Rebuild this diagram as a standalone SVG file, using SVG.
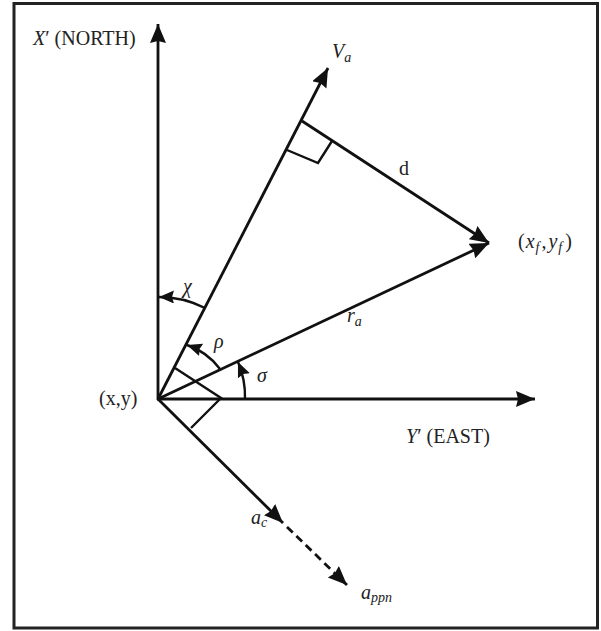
<svg xmlns="http://www.w3.org/2000/svg" width="601" height="631" viewBox="0 0 601 631">
<style>
.ln{stroke:#111;stroke-width:2.8;fill:none;stroke-linecap:butt}
.thin{stroke:#111;stroke-width:2.4;fill:none}
text{font-family:"Liberation Serif","DejaVu Serif","Times New Roman",serif;font-size:20px;fill:#222}
.i{font-style:italic}
.s{font-size:14px;font-style:italic}
</style>
<defs>
<marker id="ah" markerUnits="userSpaceOnUse" markerWidth="21" markerHeight="17" refX="19" refY="8" orient="auto">
<path d="M0,0 L19,8 L0,16 L2,8 z" fill="#111"/>
</marker>
<marker id="ahs" markerUnits="userSpaceOnUse" markerWidth="16" markerHeight="14" refX="15" refY="6.5" orient="auto">
<path d="M0,0 L15,6.5 L0,13 L2,6.5 z" fill="#111"/>
</marker>
</defs>
<rect x="14" y="3.5" width="583.5" height="624.5" fill="#fff" stroke="#222" stroke-width="3"/>
<g id="connectors">
<path class="ln" d="M158,400 L158,24" marker-end="url(#ah)"/>
<path class="ln" d="M157,399 L535,399" marker-end="url(#ah)"/>
<path class="ln" d="M158,399 L328,68" marker-end="url(#ah)"/>
<path class="ln" d="M158,399 L489,243" marker-end="url(#ah)"/>
<path class="ln" d="M302,121 L489,243" marker-end="url(#ah)"/>
<path class="ln" d="M158,399 L283,523" marker-end="url(#ah)"/>
<path class="ln" d="M287,527 L347,585" stroke-dasharray="8,5" marker-end="url(#ah)"/>
<path class="thin" d="M287,150 L318,163 L332,141"/>
<path class="thin" d="M175,368 L221,398 L191,428"/>
<path class="thin" d="M205,308 A102,102 0 0 0 159,297" marker-end="url(#ahs)"/>
<path class="thin" d="M220,369 A68,68 0 0 0 187,345" marker-end="url(#ahs)"/>
<path class="thin" d="M245,399 A87,87 0 0 0 238,362" marker-end="url(#ahs)"/>
</g>
<g id="north-label"><text x="33" y="45"><tspan class="i">X</tspan><tspan>′</tspan> (NORTH)</text></g>
<g id="east-label"><text x="406" y="443"><tspan class="i">Y</tspan><tspan>′</tspan> (EAST)</text></g>
<g id="va-label"><text x="332" y="58"><tspan class="i">V</tspan><tspan class="s" dy="4">a</tspan></text></g>
<g id="d-label"><text x="399" y="175">d</text></g>
<g id="target-label"><text x="518" y="248">(<tspan class="i" dx="1">x</tspan><tspan class="s" dy="4" dx="1">f</tspan><tspan dy="-4" dx="2">,</tspan><tspan class="i" dx="2">y</tspan><tspan class="s" dy="4" dx="1">f</tspan><tspan dy="-4" dx="3">)</tspan></text></g>
<g id="ra-label"><text x="347" y="322"><tspan class="i">r</tspan><tspan class="s" dy="4">a</tspan></text></g>
<g id="chi-label"><text class="i" x="183" y="293">χ</text></g>
<g id="rho-label"><text class="i" x="214" y="348">ρ</text></g>
<g id="sigma-label"><text class="i" x="257" y="382">σ</text></g>
<g id="origin-label"><text x="99" y="405">(x,y)</text></g>
<g id="ac-label"><text x="251" y="524"><tspan class="i">a</tspan><tspan class="s" dy="3">c</tspan></text></g>
<g id="appn-label"><text x="361" y="599"><tspan class="i">a</tspan><tspan class="s" dy="3">ppn</tspan></text></g>
</svg>
